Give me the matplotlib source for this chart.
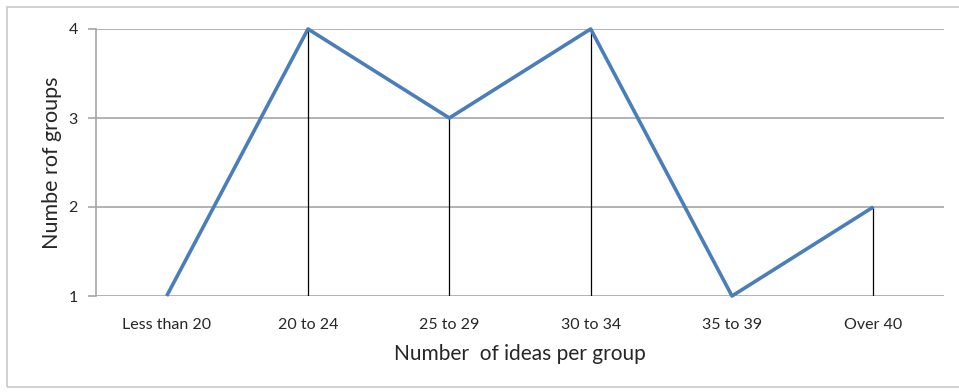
import matplotlib
matplotlib.use("Agg")
import matplotlib.pyplot as plt
from matplotlib.patches import Rectangle

categories = ["Less than 20", "20 to 24", "25 to 29", "30 to 34", "35 to 39", "Over 40"]
groups = [1, 4, 3, 4, 1, 2]
yticks = [1, 2, 3, 4]

plt.rcParams['font.family'] = ['Lato', 'DejaVu Sans']

fig = plt.figure(figsize=(9.59, 3.92), dpi=100)
ax = fig.add_axes([96 / 959, 1 - 296 / 392, 848 / 959, 267 / 392])

# outer frame of the chart area
fig.patches.append(Rectangle((7 / 959, 5 / 392), 1.0, 380 / 392, transform=fig.transFigure,
                             fill=False, edgecolor="#c8c8c8", linewidth=1.2))

x = list(range(len(categories)))
ax.vlines(x, 1, groups, color="black", linewidth=0.9, zorder=2)
ax.plot(x, groups, color="#4a7ebb", linewidth=2.6, zorder=3, solid_capstyle="butt")

ax.set_xlim(-0.5, len(categories) - 0.5)
ax.set_ylim(1, 4)
ax.set_yticks(yticks)
ax.set_xticks(x)
ax.set_xticklabels(categories)
ax.yaxis.grid(True, color="#a6a6a6", linewidth=1.2)
ax.set_axisbelow(True)

for s in ["top", "right", "bottom"]:
    ax.spines[s].set_visible(False)
ax.spines["left"].set_color("#a6a6a6")
ax.spines["left"].set_linewidth(1.2)
ax.tick_params(axis="y", length=6, color="#a6a6a6", width=1.2, labelsize=11.5, labelcolor="#262626", pad=7)
ax.tick_params(axis="x", length=0, labelsize=11.5, labelcolor="#262626", pad=15.5)

ax.set_xlabel("Number  of ideas per group", fontsize=15, color="#262626", labelpad=9)
ax.set_ylabel("Numbe rof groups", fontsize=15.5, color="#262626", labelpad=5)
for ln in ax.lines:
    ln.set_clip_on(False)

fig.savefig("out.png", dpi=100)
